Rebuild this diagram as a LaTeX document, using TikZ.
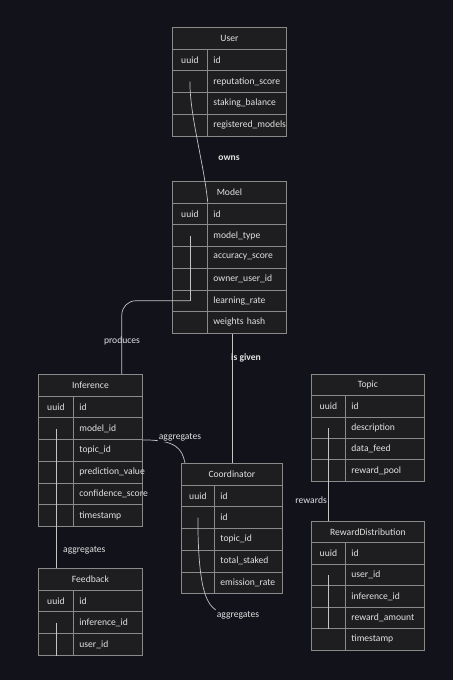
\documentclass[tikz,border=0pt]{standalone}
\usepackage{fontspec}
\setmainfont{Carlito}
\usetikzlibrary{calc}

\definecolor{bgcol}{HTML}{12121B}
\definecolor{cellcol}{HTML}{1E1E20}
\definecolor{linecol}{HTML}{8A8A8A}
\definecolor{txtcol}{HTML}{E2E2E2}
\definecolor{edgecol}{HTML}{C4C4C4}

\tikzset{
  cell/.style={draw=linecol, fill=cellcol, text=txtcol, anchor=north west,
    minimum height=21.7pt, inner xsep=6pt, inner ysep=0pt, line width=0.8pt,
    font=\fontsize{9.6}{11}\selectfont},
  ttl/.style={cell, minimum width=#1},
  kcell/.style={cell, minimum width=#1},
  fcell/.style={cell, text width=#1, align=left},
  rel/.style={draw=edgecol, line width=0.7pt},
  lbl/.style={text=txtcol, inner sep=1pt, font=\fontsize{9.6}{11}\selectfont},
  strong/.style={lbl, font=\fontsize{9.6}{11}\selectfont\bfseries},
}

\begin{document}
\begin{tikzpicture}[x=1pt, y=-1pt]
  \fill[bgcol] (0,0) rectangle (453,680);
  \useasboundingbox (0,0) rectangle (453,680);

  % tables
  \node[ttl=114] (user-t) at (172,27) {User};
  \foreach \f [count=\i] in {id,reputation\_score,staking\_balance,registered\_models} {
    \node[kcell=35] (user-k\i) at (172,27+21.7*\i) {\ifnum\i=1 uuid\fi};
    \node[fcell=67] (user-f\i) at (207,27+21.7*\i) {\f};
  }

  \node[ttl=114] (model-t) at (172,181) {Model};
  \foreach \f [count=\i] in {id,model\_type,accuracy\_score,owner\_user\_id,learning\_rate,weights hash} {
    \node[kcell=35] (model-k\i) at (172,181+21.7*\i) {\ifnum\i=1 uuid\fi};
    \node[fcell=67] (model-f\i) at (207,181+21.7*\i) {\f};
  }

  \node[ttl=104] (inf-t) at (38,374) {Inference};
  \foreach \f [count=\i] in {id,model\_id,topic\_id,prediction\_value,confidence\_score,timestamp} {
    \node[kcell=35] (inf-k\i) at (38,374+21.7*\i) {\ifnum\i=1 uuid\fi};
    \node[fcell=57] (inf-f\i) at (73,374+21.7*\i) {\f};
  }

  \node[ttl=101] (coord-t) at (181,463) {Coordinator};
  \foreach \f [count=\i] in {id,id,topic\_id,total\_staked,emission\_rate} {
    \node[kcell=33] (coord-k\i) at (181,463+21.7*\i) {\ifnum\i=1 uuid\fi};
    \node[fcell=56] (coord-f\i) at (214,463+21.7*\i) {\f};
  }

  \node[ttl=113] (topic-t) at (311,374) {Topic};
  \foreach \f [count=\i] in {id,description,data\_feed,reward\_pool} {
    \node[kcell=34] (topic-k\i) at (311,374+21.3*\i) {\ifnum\i=1 uuid\fi};
    \node[fcell=67] (topic-f\i) at (345,374+21.3*\i) {\f};
  }

  \node[ttl=113] (rd-t) at (311,521) {RewardDistribution};
  \foreach \f [count=\i] in {id,user\_id,inference\_id,reward\_amount,timestamp} {
    \node[kcell=34] (rd-k\i) at (311,521+21.4*\i) {\ifnum\i=1 uuid\fi};
    \node[fcell=67] (rd-f\i) at (345,521+21.4*\i) {\f};
  }

  \node[ttl=104] (fb-t) at (38,568) {Feedback};
  \foreach \f [count=\i] in {id,inference\_id,user\_id} {
    \node[kcell=35] (fb-k\i) at (38,568+21.7*\i) {\ifnum\i=1 uuid\fi};
    \node[fcell=57] (fb-f\i) at (73,568+21.7*\i) {\f};
  }

  % relations
  \draw[rel] (user-k2.center) .. controls +(0,35) and +(-4,-40) .. (model-k1.north east);
  \node[strong] (owns) at (229,158) {owns};

  \coordinate (prod-in) at ($(inf-t.north west)!0.8!(inf-t.north east)$);
  \draw[rel] (model-k2.center) -- (model-k5.center);
  \draw[rel, rounded corners=14pt] (model-k5.center) -- (model-k5.center -| prod-in) -- (prod-in);
  \node[lbl] (produces) at (122,341) {produces};

  \draw[rel] (coord-t.north) -- (coord-t.north |- model-k6.south);
  \node[strong] (isgiven) at (246,358) {is given};

  \coordinate (coord-in) at ($(coord-t.north west)+(4,0)$);
  \draw[rel] (inf-f2.south east) .. controls +(34,0) and +(-3,-14) .. (coord-in);
  \node[lbl, fill=bgcol] (agg-ic) at (180,437) {aggregates};

  \draw[rel] (inf-k2.center) -- (inf-k2.center |- fb-t.north);
  \node[lbl, anchor=west] (agg-if) at (62,550) {aggregates};

  \node[lbl] (agg-c) at (238,615) {aggregates};
  \draw[rel] (coord-k2.center) .. controls +(0,75) and +(-8,-6) .. (agg-c.north west);

  \draw[rel] (topic-k2.center) -- (topic-k2.center |- rd-t.north);
  \node[lbl, anchor=east] (rewards) at (328,500) {rewards};

  \draw[rel] (fb-k2.center) -- (fb-k3.south);
  \draw[rel] (rd-k2.center) -- (rd-k4.south);
\end{tikzpicture}
\end{document}
